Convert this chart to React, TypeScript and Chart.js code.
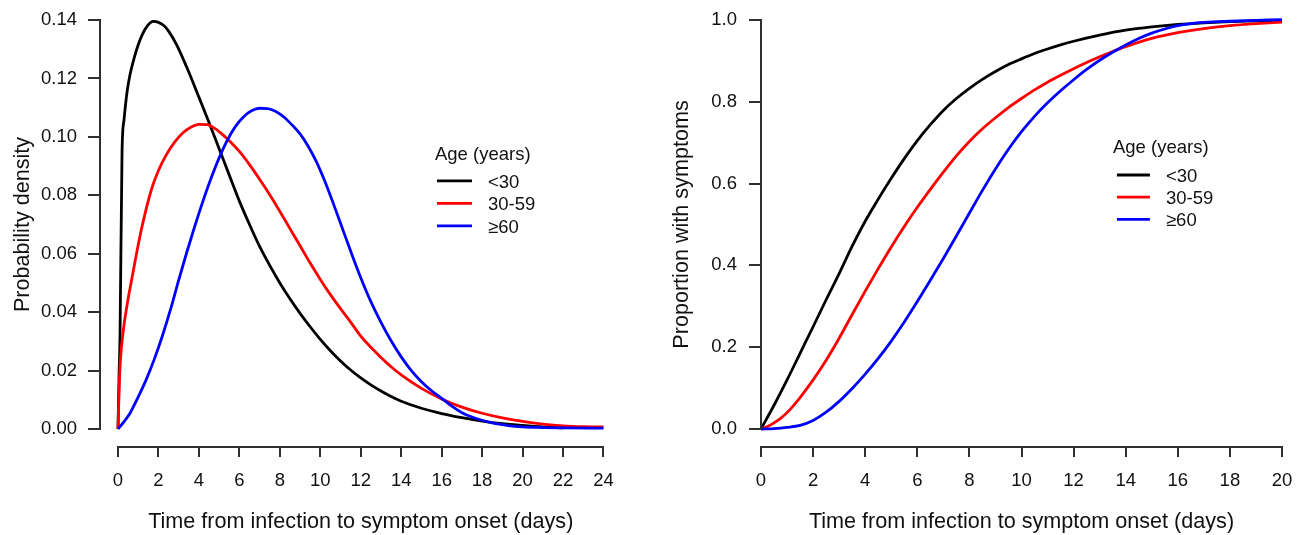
import React, { useEffect, useRef } from "react";
import { Chart, registerables } from "chart.js";

Chart.register(...registerables);

const FONT = '"Liberation Sans", Arial, Helvetica, sans-serif';
const TEXT_COLOR = "#111111";
const AXIS_COLOR = "#303030";

// ---------- labels ----------
const xAxisTitle = "Time from infection to symptom onset (days)";
const pdfYAxisTitle = "Probability density";
const cdfYAxisTitle = "Proportion with symptoms";
const legendTitle = "Age (years)";
const seriesLabels = ["<30", "30-59", "≥60"];
const seriesColors = ["#000000", "#ff0000", "#0000ff"];

// ---------- ticks ----------
const pdfXTicks = [0, 2, 4, 6, 8, 10, 12, 14, 16, 18, 20, 22, 24];
const pdfYTicks = [0, 0.02, 0.04, 0.06, 0.08, 0.1, 0.12, 0.14];
const cdfXTicks = [0, 2, 4, 6, 8, 10, 12, 14, 16, 18, 20];
const cdfYTicks = [0, 0.2, 0.4, 0.6, 0.8, 1.0];

// ---------- probability density (left panel) ----------
const pdfDaysUnder30 = [0, 0.05, 0.1, 0.2, 0.3, 0.45, 0.6, 0.8, 1.0, 1.2, 1.45, 1.75, 2.0, 2.25, 2.5, 2.9, 3.4, 4.0, 4.5, 5.0, 5.5, 6.0, 6.5, 7.0, 7.5, 8.0, 8.5, 9.0, 9.5, 10.0, 10.5, 11.0, 11.5, 12.0, 12.5, 13.0, 13.5, 14.0, 15.0, 16.0, 17.0, 18.0, 19.0, 20.0, 21.0, 22.0];
const pdfUnder30 = [0, 0.018, 0.032, 0.095, 0.106, 0.1155, 0.1215, 0.127, 0.1315, 0.135, 0.138, 0.1395, 0.1392, 0.1382, 0.1362, 0.1315, 0.1238, 0.1136, 0.1049, 0.0959, 0.0869, 0.078, 0.07, 0.0625, 0.056, 0.05, 0.0446, 0.0396, 0.035, 0.0307, 0.0268, 0.0233, 0.0202, 0.0175, 0.0151, 0.013, 0.0111, 0.0095, 0.0071, 0.0053, 0.0039, 0.0027, 0.0018, 0.0012, 0.0007, 0.0004];

const pdfDays30to59 = [0, 0.08, 0.25, 0.45, 0.7, 0.9, 1.1, 1.4, 1.7, 2.0, 2.4, 2.8, 3.2, 3.6, 4.0, 4.4, 4.8, 5.2, 5.6, 6.0, 6.5, 7.0, 7.5, 8.0, 8.5, 9.0, 9.5, 10.0, 10.5, 11.0, 11.5, 12.0, 12.5, 13.0, 13.5, 14.0, 15.0, 16.0, 17.0, 18.0, 19.0, 20.0, 21.0, 22.0, 23.0, 24.0];
const pdf30to59 = [0, 0.0185, 0.033, 0.0425, 0.052, 0.0595, 0.0665, 0.0755, 0.083, 0.0885, 0.094, 0.0982, 0.1013, 0.1033, 0.1043, 0.1042, 0.1028, 0.1006, 0.098, 0.095, 0.0905, 0.0855, 0.0802, 0.0745, 0.0686, 0.0627, 0.0568, 0.0512, 0.046, 0.0412, 0.0366, 0.0318, 0.028, 0.0245, 0.0213, 0.0185, 0.0139, 0.0103, 0.0075, 0.0054, 0.0038, 0.0026, 0.0017, 0.0011, 0.0008, 0.0007];

const pdfDays60plus = [0, 0.3, 0.6, 1.0, 1.4, 1.8, 2.2, 2.6, 3.0, 3.4, 3.8, 4.2, 4.6, 5.0, 5.4, 5.8, 6.2, 6.6, 7.0, 7.4, 7.8, 8.2, 8.6, 9.0, 9.4, 9.8, 10.2, 10.6, 11.0, 11.5, 12.0, 12.5, 13.0, 13.5, 14.0, 14.5, 15.0, 15.5, 16.0, 16.5, 17.0, 17.5, 18.0, 18.5, 19.0, 19.5, 20.0, 21.0, 22.0, 24.0];
const pdf60plus = [0, 0.0025, 0.0055, 0.011, 0.017, 0.024, 0.032, 0.041, 0.051, 0.0605, 0.0695, 0.078, 0.0858, 0.0928, 0.0988, 0.1035, 0.1068, 0.1089, 0.1098, 0.1097, 0.1087, 0.1068, 0.1041, 0.101, 0.0968, 0.0916, 0.0852, 0.078, 0.0704, 0.0609, 0.0518, 0.0436, 0.0365, 0.0302, 0.0247, 0.02, 0.0162, 0.0131, 0.0105, 0.0078, 0.0056, 0.0041, 0.003, 0.0021, 0.0015, 0.001, 0.0007, 0.0005, 0.0004, 0.0003];

// ---------- cumulative proportion (right panel) ----------
const cdfDaysUnder30 = [0, 0.5, 1.0, 1.5, 2.0, 2.5, 3.0, 3.5, 4.0, 4.5, 5.0, 5.5, 6.0, 6.5, 7.0, 7.5, 8.0, 8.5, 9.0, 9.5, 10.0, 10.5, 11.0, 11.5, 12.0, 13.0, 14.0, 15.0, 16.0, 17.0, 18.0, 19.0, 20.0];
const cdfUnder30 = [0, 0.058, 0.12, 0.185, 0.25, 0.316, 0.38, 0.447, 0.508, 0.562, 0.613, 0.661, 0.705, 0.744, 0.779, 0.808, 0.833, 0.855, 0.874, 0.891, 0.905, 0.918, 0.929, 0.939, 0.948, 0.963, 0.975, 0.983, 0.989, 0.993, 0.996, 0.998, 0.999];

const cdfDays30to59 = [0, 0.25, 0.5, 0.75, 1.0, 1.5, 2.0, 2.5, 3.0, 3.5, 4.0, 4.5, 5.0, 5.5, 6.0, 6.5, 7.0, 7.5, 8.0, 8.5, 9.0, 9.5, 10.0, 10.5, 11.0, 11.5, 12.0, 12.5, 13.0, 13.5, 14.0, 15.0, 16.0, 17.0, 18.0, 19.0, 20.0];
const cdf30to59 = [0, 0.006, 0.015, 0.026, 0.04, 0.077, 0.12, 0.168, 0.222, 0.28, 0.337, 0.392, 0.445, 0.495, 0.542, 0.586, 0.628, 0.668, 0.703, 0.734, 0.761, 0.786, 0.808, 0.829, 0.848, 0.865, 0.881, 0.896, 0.91, 0.923, 0.935, 0.955, 0.969, 0.979, 0.986, 0.991, 0.995];

const cdfDays60plus = [0, 0.5, 1.0, 1.5, 2.0, 2.5, 3.0, 3.5, 4.0, 4.5, 5.0, 5.5, 6.0, 6.5, 7.0, 7.5, 8.0, 8.5, 9.0, 9.5, 10.0, 10.5, 11.0, 11.5, 12.0, 12.5, 13.0, 13.5, 14.0, 14.5, 15.0, 15.5, 16.0, 16.5, 17.0, 18.0, 19.0, 20.0];
const cdf60plus = [0, 0.001, 0.004, 0.009, 0.021, 0.041, 0.0675, 0.099, 0.134, 0.1725, 0.215, 0.2615, 0.3115, 0.3635, 0.417, 0.472, 0.528, 0.5835, 0.636, 0.684, 0.727, 0.7645, 0.7975, 0.827, 0.854, 0.879, 0.9015, 0.921, 0.939, 0.955, 0.968, 0.978, 0.986, 0.991, 0.994, 0.997, 0.999, 1.001];

function toPoints(xs: number[], ys: number[]) {
  return xs.map((x, i) => ({ x, y: ys[i] }));
}

// R-style axis line that spans only from first to last tick
const rAxisPlugin = {
  id: "rAxis",
  afterDraw(chart: any) {
    const { ctx, chartArea } = chart;
    const xs = chart.scales.x;
    const ys = chart.scales.y;
    ctx.save();
    ctx.strokeStyle = AXIS_COLOR;
    ctx.lineWidth = 2;
    ctx.lineCap = "butt";
    const bx = Math.round(chartArea.bottom);
    const x0 = xs.getPixelForValue(xs.ticks[0].value);
    const x1 = xs.getPixelForValue(xs.ticks[xs.ticks.length - 1].value);
    ctx.beginPath();
    ctx.moveTo(Math.round(x0) - 1, bx);
    ctx.lineTo(Math.round(x1) + 1, bx);
    ctx.stroke();
    const lx = Math.round(chartArea.left);
    const y0 = ys.getPixelForValue(ys.ticks[0].value);
    const y1 = ys.getPixelForValue(ys.ticks[ys.ticks.length - 1].value);
    ctx.beginPath();
    ctx.moveTo(lx, Math.round(y0) + 1);
    ctx.lineTo(lx, Math.round(y1) - 1);
    ctx.stroke();
    ctx.restore();
  },
};

// R-style legend placed in data coordinates
const rLegendPlugin = {
  id: "rLegend",
  afterDatasetsDraw(chart: any, _args: any, opts: any) {
    const { ctx } = chart;
    const xs = chart.scales.x;
    const ys = chart.scales.y;
    const left = xs.getPixelForValue(opts.x);
    const top = ys.getPixelForValue(opts.y);
    ctx.save();
    ctx.font = `18.5px ${FONT}`;
    ctx.fillStyle = TEXT_COLOR;
    ctx.textAlign = "left";
    ctx.textBaseline = "middle";
    ctx.fillText(opts.title, left, top);
    chart.data.datasets.forEach((ds: any, i: number) => {
      const ry = top + opts.firstGap + i * opts.rowGap;
      ctx.strokeStyle = ds.borderColor;
      ctx.lineWidth = 2.8;
      ctx.beginPath();
      ctx.moveTo(left + opts.lineStart, ry);
      ctx.lineTo(left + opts.lineStart + opts.lineLen, ry);
      ctx.stroke();
      ctx.fillText(ds.label, left + opts.textStart, ry + 1.5);
    });
    ctx.restore();
  },
};

function makeTicks(values: number[]) {
  return (scale: any) => {
    scale.ticks = values.map((v) => ({ value: v }));
  };
}

interface PanelCfg {
  series: { x: number[]; y: number[] }[];
  xTicks: number[];
  yTicks: number[];
  xMin: number;
  xMax: number;
  yMin: number;
  yMax: number;
  yDecimals: number;
  yTitle: string;
  yTitlePad: number;
  yWidth: number;
  yLabelPad: number;
  padRight: number;
  legend: any;
}

function buildConfig(cfg: PanelCfg): any {
  return {
    type: "line",
    data: {
      datasets: cfg.series.map((s, i) => ({
        label: seriesLabels[i],
        data: toPoints(s.x, s.y),
        borderColor: seriesColors[i],
        backgroundColor: seriesColors[i],
        borderWidth: 2.8,
        pointRadius: 0,
        pointHoverRadius: 0,
        fill: false,
        cubicInterpolationMode: "monotone",
        clip: false,
        order: 3 - i,
      })),
    },
    options: {
      responsive: false,
      animation: false,
      events: [],
      layout: { padding: { left: 0, right: cfg.padRight, top: 2, bottom: 0 } },
      plugins: {
        legend: { display: false },
        tooltip: { enabled: false },
        rLegend: cfg.legend,
      },
      scales: {
        x: {
          type: "linear",
          min: cfg.xMin,
          max: cfg.xMax,
          afterBuildTicks: makeTicks(cfg.xTicks),
          afterFit: (scale: any) => {
            scale.height = 88;
            scale.paddingLeft = 0;
            scale.paddingRight = 0;
            scale.paddingTop = 0;
            scale.paddingBottom = 0;
          },
          grid: {
            display: true,
            drawOnChartArea: false,
            drawTicks: true,
            tickLength: 10,
            color: AXIS_COLOR,
            lineWidth: 2,
          },
          border: { display: false },
          ticks: {
            autoSkip: false,
            maxRotation: 0,
            padding: 13,
            color: TEXT_COLOR,
            font: { family: FONT, size: 18.5 },
            callback: (v: any) => String(v),
          },
          title: {
            display: true,
            text: xAxisTitle,
            color: TEXT_COLOR,
            font: { family: FONT, size: 21.6 },
            padding: { top: 0, bottom: 0 },
          },
        },
        y: {
          type: "linear",
          min: cfg.yMin,
          max: cfg.yMax,
          afterBuildTicks: makeTicks(cfg.yTicks),
          afterFit: (scale: any) => {
            scale.width = cfg.yWidth;
            scale.paddingLeft = 0;
            scale.paddingRight = 0;
            scale.paddingTop = 0;
            scale.paddingBottom = 0;
          },
          grid: {
            display: true,
            drawOnChartArea: false,
            drawTicks: true,
            tickLength: 12,
            color: AXIS_COLOR,
            lineWidth: 2,
          },
          border: { display: false },
          ticks: {
            autoSkip: false,
            padding: cfg.yLabelPad,
            color: TEXT_COLOR,
            font: { family: FONT, size: 18.5 },
            callback: (v: any) => Number(v).toFixed(cfg.yDecimals),
          },
          title: {
            display: true,
            text: cfg.yTitle,
            color: TEXT_COLOR,
            font: { family: FONT, size: 21.6 },
            padding: { top: cfg.yTitlePad, bottom: 0 },
          },
        },
      },
    },
    plugins: [rAxisPlugin, rLegendPlugin],
  };
}

const leftPanel: PanelCfg = {
  series: [
    { x: pdfDaysUnder30, y: pdfUnder30 },
    { x: pdfDays30to59, y: pdf30to59 },
    { x: pdfDays60plus, y: pdf60plus },
  ],
  xTicks: pdfXTicks,
  yTicks: pdfYTicks,
  xMin: -0.89,
  xMax: 24.89,
  yMin: -0.00616,
  yMax: 0.14616,
  yDecimals: 2,
  yTitle: pdfYAxisTitle,
  yTitlePad: 10,
  yWidth: 100,
  yLabelPad: 11,
  padRight: 28.5,
  legend: { x: 15.67, y: 0.0938, title: legendTitle, firstGap: 26, rowGap: 22.5, lineStart: 2, lineLen: 35, textStart: 53 },
};

const rightPanel: PanelCfg = {
  series: [
    { x: cdfDaysUnder30, y: cdfUnder30 },
    { x: cdfDays30to59, y: cdf30to59 },
    { x: cdfDays60plus, y: cdf60plus },
  ],
  xTicks: cdfXTicks,
  yTicks: cdfYTicks,
  xMin: 0,
  xMax: 20,
  yMin: -0.04401,
  yMax: 1.04401,
  yDecimals: 1,
  yTitle: cdfYAxisTitle,
  yTitlePad: 19,
  yWidth: 111,
  yLabelPad: 12,
  padRight: 17,
  legend: { x: 13.51, y: 0.6883, title: legendTitle, firstGap: 27.5, rowGap: 22.2, lineStart: 4, lineLen: 33, textStart: 53 },
};

function Panel({ cfg, left, width }: { cfg: PanelCfg; left: number; width: number }) {
  const ref = useRef<HTMLCanvasElement | null>(null);
  useEffect(() => {
    if (!ref.current) return;
    const chart = new Chart(ref.current, buildConfig(cfg));
    return () => chart.destroy();
  }, [cfg]);
  return (
    <canvas
      ref={ref}
      width={width}
      height={535}
      style={{ position: "absolute", left, top: 0, width, height: 535, display: "block" }}
    />
  );
}

export default function App() {
  return (
    <div style={{ position: "absolute", left: 0, top: 0, width: 1299, height: 535, background: "#ffffff", overflow: "hidden" }}>
      <Panel cfg={leftPanel} left={0} width={650} />
      <Panel cfg={rightPanel} left={650} width={649} />
    </div>
  );
}
